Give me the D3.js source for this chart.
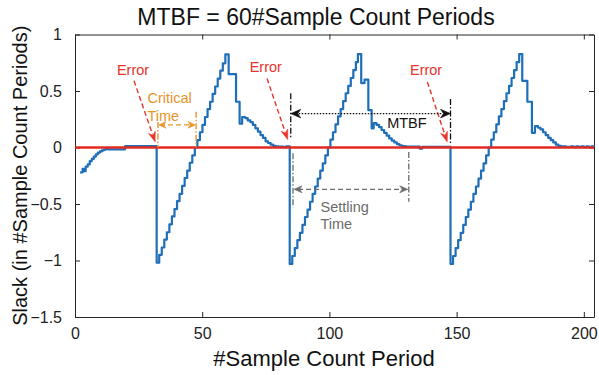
<!DOCTYPE html>
<html>
<head>
<meta charset="utf-8">
<script src="https://cdn.jsdelivr.net/npm/d3@7"></script>
<style>
  body { margin: 0; background: #fff; }
  svg { display: block; font-family: "Liberation Sans", Arial, sans-serif; }
</style>
</head>
<body>
<div id="chart"></div>
<script>
const xTicks = [0, 50, 100, 150, 200];
const yTicks = [1, 0.5, 0, -0.5, -1, -1.5];

// [sample count period, slack], drawn as stairs
const slackPoints = [
  [2, -0.22], [3, -0.19], [3.6, -0.21], [4.2, -0.17], [5, -0.15], [5.8, -0.12], [6.6, -0.1],
  [7.4, -0.08], [8.2, -0.06], [9, -0.045], [9.8, -0.035], [10.6, -0.025], [11.4, -0.018],
  [12.2, -0.014], [13, -0.016], [19.7, 0.012],
  // error 1
  [32.1, -1.02], [33.1, -0.95], [34.1, -0.885], [35.1, -0.815], [36.1, -0.75], [37.1, -0.68],
  [38.1, -0.61], [39.1, -0.545], [40.1, -0.475], [41.1, -0.41], [42.1, -0.34], [43.1, -0.27],
  [44.1, -0.205], [45.1, -0.135], [46.1, -0.07], [47.1, 0.0], [48.1, 0.065], [49.1, 0.135],
  [50.1, 0.2], [51.1, 0.27], [52.1, 0.34], [53.1, 0.405], [54.1, 0.475], [55.1, 0.54],
  [56.1, 0.61], [57.1, 0.68], [58.1, 0.745], [59.1, 0.825], [60.4, 0.65], [63.3, 0.405],
  [64.7, 0.21], [65.7, 0.27], [66.9, 0.26], [67.9, 0.24], [68.9, 0.225], [69.9, 0.2],
  [70.9, 0.17], [71.9, 0.14], [72.9, 0.11], [73.9, 0.085], [74.9, 0.055], [75.9, 0.04],
  [76.9, 0.025], [77.9, 0.015], [78.9, 0.01], [80, 0.007], [82, 0.004], [83, 0.01],
  // error 2
  [84.4, -1.03], [85.4, -0.96], [86.4, -0.89], [87.4, -0.82], [88.4, -0.755], [89.4, -0.685],
  [90.4, -0.615], [91.4, -0.55], [92.4, -0.48], [93.4, -0.41], [94.4, -0.345], [95.4, -0.275],
  [96.4, -0.205], [97.4, -0.14], [98.4, -0.07], [99.4, 0.0], [100.4, 0.07], [101.4, 0.135],
  [102.4, 0.205], [103.4, 0.275], [104.4, 0.34], [105.4, 0.41], [106.4, 0.48], [107.4, 0.545],
  [108.4, 0.615], [109.4, 0.685], [110.4, 0.755], [111.2, 0.827], [112.5, 0.57], [113.8, 0.6],
  [115.3, 0.33], [116.6, 0.17], [117.4, 0.215], [118.5, 0.2], [119.5, 0.18], [120.5, 0.155],
  [121.5, 0.13], [122.5, 0.105], [123.5, 0.08], [124.5, 0.06], [125.5, 0.045], [126.5, 0.03],
  [127.5, 0.02], [128.5, 0.012], [130, 0.008], [135.5, -0.01], [136.5, 0.006],
  // error 3
  [147.6, -1.03], [148.6, -0.96], [149.6, -0.89], [150.6, -0.82], [151.6, -0.755], [152.6, -0.685],
  [153.6, -0.615], [154.6, -0.55], [155.6, -0.48], [156.6, -0.41], [157.6, -0.345], [158.6, -0.275],
  [159.6, -0.205], [160.6, -0.14], [161.6, -0.07], [162.6, 0.0], [163.6, 0.07], [164.6, 0.135],
  [165.6, 0.205], [166.6, 0.275], [167.6, 0.34], [168.6, 0.41], [169.6, 0.48], [170.6, 0.545],
  [171.6, 0.615], [172.6, 0.685], [173.6, 0.755], [174.6, 0.827], [175.8, 0.59], [177.8, 0.405],
  [179.6, 0.13], [180.8, 0.19], [182, 0.175], [183, 0.16], [184, 0.135], [185, 0.11],
  [186, 0.085], [187, 0.065], [188, 0.045], [189, 0.025], [190, 0.015], [191, 0.01],
  [193, 0.005], [195, 0.011], [196, 0.004], [197, 0.011], [198, 0.003], [199, 0.011],
  [200, 0.003], [201, 0.01], [202, 0.004], [203, 0.01], [204, 0.005]
];

// annotations, in data units
const errorLabels = [[22.8, 0.64], [75.0, 0.67], [138.0, 0.64]];
const errorArrows = [[23.2, 0.59, 31.5, 0.05], [75.5, 0.61, 83.6, 0.07], [138.5, 0.58, 146.3, 0.05]];
const criticalSpan = { x0: 32.6, x1: 47.6, y: 0.2, top0: 0.226, top1: 0.317 };
const mtbfSpan = { x0: 84.8, x1: 147.6, y: 0.30, left: [0.48, 0.09], right: [0.43, 0.04] };
const settlingSpan = { x0: 85.7, x1: 131.2, y: -0.37, left: [-0.05, -0.53], right: [-0.04, -0.48] };

const W = 599, H = 375;
const margin = { top: 34.5, right: 5, bottom: 58, left: 75 };
const width = W - margin.left - margin.right;
const height = H - margin.top - margin.bottom;

const svg = d3.select("#chart").append("svg")
    .attr("width", W)
    .attr("height", H);

const g = svg.append("g")
    .attr("transform", `translate(${margin.left},${margin.top})`);

const x = d3.scaleLinear().domain([0, 204]).range([0, width]);
const y = d3.scaleLinear().domain([-1.5, 1]).range([height, 0]);

// axes box, ticks inside like matlab
const tickLen = 5;
g.append("g").attr("transform", `translate(0,${height})`)
    .call(d3.axisBottom(x).tickValues(xTicks).tickSizeInner(-tickLen).tickSizeOuter(0).tickPadding(11))
    .call(a => a.selectAll("text").attr("font-size", 16).attr("fill", "#222"));
g.append("g")
    .call(d3.axisTop(x).tickValues(xTicks).tickSizeInner(-tickLen).tickSizeOuter(0).tickFormat(""));
g.append("g")
    .call(d3.axisLeft(y).tickValues(yTicks).tickSizeInner(-tickLen).tickSizeOuter(0).tickPadding(13)
        .tickFormat(d3.format("")))
    .call(a => a.selectAll("text").attr("font-size", 16).attr("fill", "#222"));
g.append("g").attr("transform", `translate(${width},0)`)
    .call(d3.axisRight(y).tickValues(yTicks).tickSizeInner(-tickLen).tickSizeOuter(0).tickFormat(""));
g.selectAll(".domain, .tick line").attr("stroke", "#262626");
g.selectAll("text").attr("font-family", "Liberation Sans, Arial, sans-serif");

// slack trace
const line = d3.line()
    .x(d => x(d[0]))
    .y(d => y(d[1]))
    .curve(d3.curveStepAfter);

g.append("path")
    .datum(slackPoints)
    .attr("fill", "none")
    .attr("stroke", "#1f6fb8")
    .attr("stroke-width", 2.2)
    .attr("stroke-linejoin", "round")
    .attr("d", line);

// zero line
g.append("line")
    .attr("x1", 0).attr("x2", width)
    .attr("y1", y(0)).attr("y2", y(0))
    .attr("stroke", "#e02a22")
    .attr("stroke-width", 2.6);

function arrowHead(tx, ty, fx, fy, len, hw, color) {
    const a = Math.atan2(ty - fy, tx - fx);
    const c = Math.cos(a), s = Math.sin(a);
    const bx = tx - len * c, by = ty - len * s;
    const nx = tx - len * 0.7 * c, ny = ty - len * 0.7 * s;
    const p1 = [bx - hw * s, by + hw * c];
    const p2 = [bx + hw * s, by - hw * c];
    g.append("path")
        .attr("d", `M${tx},${ty}L${p1[0]},${p1[1]}L${nx},${ny}L${p2[0]},${p2[1]}Z`)
        .attr("fill", color)
        .attr("stroke", color)
        .attr("stroke-width", 0.6);
}

function seg(x1, y1, x2, y2, color, dash, w) {
    g.append("line")
        .attr("x1", x1).attr("y1", y1).attr("x2", x2).attr("y2", y2)
        .attr("stroke", color)
        .attr("stroke-width", w || 1.3)
        .attr("stroke-dasharray", dash);
}

const red = "#e8352b", orange = "#e8942a", gray = "#6b6b6b";
const dashDot = "6,2,1.5,2";

// Error labels and arrows
errorLabels.forEach(d => {
    g.append("text")
        .attr("x", x(d[0])).attr("y", y(d[1]))
        .attr("text-anchor", "middle")
        .attr("font-size", 14.5)
        .attr("fill", red)
        .text("Error");
});
errorArrows.forEach(d => {
    const fx = x(d[0]), fy = y(d[1]), tx = x(d[2]), ty = y(d[3]);
    const a = Math.atan2(ty - fy, tx - fx);
    seg(fx, fy, tx - 8 * Math.cos(a), ty - 8 * Math.sin(a), red, "5,3", 1.4);
    arrowHead(tx, ty, fx, fy, 10, 3.5, red);
});

// Critical Time
{
    const c = criticalSpan;
    seg(x(c.x0), y(c.top0), x(c.x0), y(0), orange, dashDot, 1.4);
    seg(x(c.x1), y(c.top1), x(c.x1), y(0), orange, dashDot, 1.4);
    seg(x(c.x0) + 2, y(c.y), x(c.x1) - 2, y(c.y), orange, "5,3", 1.4);
    arrowHead(x(c.x0) + 1, y(c.y), x(c.x1), y(c.y), 7, 3.3, orange);
    arrowHead(x(c.x1) - 1, y(c.y), x(c.x0), y(c.y), 7, 3.3, orange);
    const t = g.append("text")
        .attr("x", x(28.5)).attr("y", y(0.39))
        .attr("font-size", 14.5)
        .attr("fill", orange);
    t.append("tspan").text("Critical");
    t.append("tspan").attr("x", x(28.5)).attr("dy", 18).text("Time");
}

// MTBF
{
    const m = mtbfSpan;
    seg(x(m.x0), y(m.left[0]), x(m.x0), y(m.left[1]), "#111", dashDot, 1.3);
    seg(x(m.x1), y(m.right[0]), x(m.x1), y(m.right[1]), "#111", dashDot, 1.3);
    seg(x(m.x0) + 8, y(m.y), x(m.x1) - 8, y(m.y), "#111", "1.5,1.5", 1.3);
    arrowHead(x(m.x0), y(m.y), x(m.x1), y(m.y), 10, 4.3, "#111");
    arrowHead(x(m.x1), y(m.y), x(m.x0), y(m.y), 10, 4.3, "#111");
    g.append("text")
        .attr("x", x(122.7)).attr("y", y(0.17))
        .attr("font-size", 14.5)
        .attr("fill", "#111")
        .text("MTBF");
}

// Settling Time
{
    const s = settlingSpan;
    seg(x(s.x0), y(s.left[0]), x(s.x0), y(s.left[1]), gray, dashDot, 1.3);
    seg(x(s.x1), y(s.right[0]), x(s.x1), y(s.right[1]), gray, dashDot, 1.3);
    seg(x(s.x0) + 5, y(s.y), x(s.x1) - 5, y(s.y), gray, "5,3", 1.3);
    arrowHead(x(s.x0) + 1, y(s.y), x(s.x1), y(s.y), 8, 3.5, gray);
    arrowHead(x(s.x1) - 1, y(s.y), x(s.x0), y(s.y), 8, 3.5, gray);
    const t = g.append("text")
        .attr("x", x(96.5)).attr("y", y(-0.57))
        .attr("font-size", 14.5)
        .attr("fill", gray);
    t.append("tspan").text("Settling");
    t.append("tspan").attr("x", x(96.5)).attr("dy", 17).text("Time");
}

// title and labels
svg.append("text")
    .attr("x", 316).attr("y", 25)
    .attr("text-anchor", "middle")
    .attr("font-size", 23)
    .attr("fill", "#111")
    .text("MTBF = 60#Sample Count Periods");

svg.append("text")
    .attr("x", 324).attr("y", 366)
    .attr("text-anchor", "middle")
    .attr("font-size", 22)
    .attr("fill", "#111")
    .text("#Sample Count Period");

svg.append("text")
    .attr("transform", `translate(27,${margin.top + height / 2}) rotate(-90)`)
    .attr("text-anchor", "middle")
    .attr("font-size", 20)
    .attr("fill", "#111")
    .text("Slack (in #Sample Count Periods)");
</script>
</body>
</html>
